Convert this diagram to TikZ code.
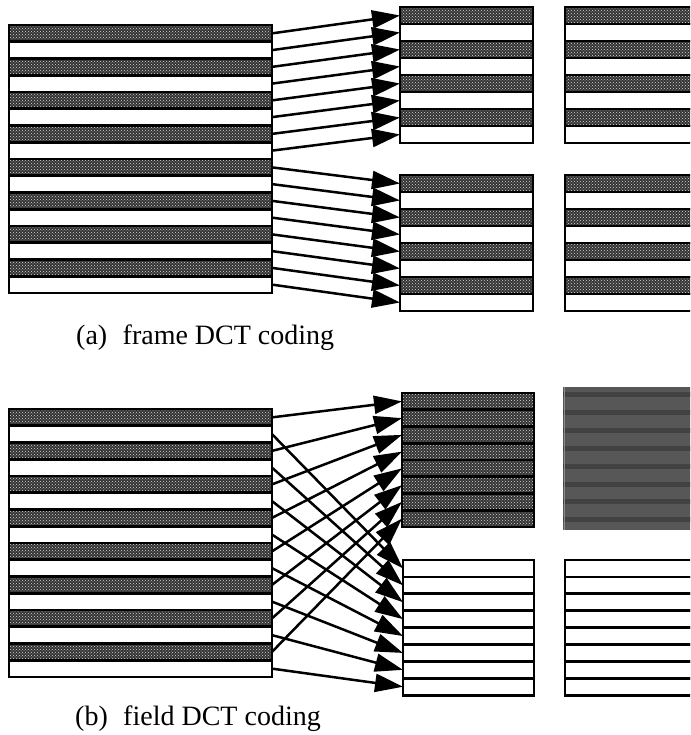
\documentclass[tikz,border=0pt]{standalone}
\usepackage{fontspec}
\setmainfont{Liberation Serif}
\usetikzlibrary{arrows.meta, patterns}

\tikzset{
  stripe/.style={draw, line width=2.8pt, inner sep=0pt, outer sep=0pt,
    anchor=north west, minimum height=#1},
  dark/.style={preaction={fill=black!80}, pattern=crosshatch dots, pattern color=white!85!black},
  light/.style={fill=white},
  feed/.style={line width=2.5pt, -{Triangle[length=28pt,width=18pt]}},
  caption/.style={anchor=base west, inner sep=0pt, font=\fontsize{28}{30}\selectfont},
}

\begin{document}
\begin{tikzpicture}[x=1pt, y=-1pt]
    \useasboundingbox (0,0) rectangle (690,735);
    \clip (0,0) rectangle (690,735);

    % --- (a) FRAME DCT CODING ---
    % 16-line block, shaded lines on top of each pair
    \foreach \i in {1,...,16}{
      \pgfmathsetmacro{\yy}{25+(\i-1)*16.75}
      \ifodd\i
        \node[stripe=16.75pt, minimum width=263pt, dark] (fa\i) at (9,\yy) {};
      \else
        \node[stripe=16.75pt, minimum width=263pt, light] (fa\i) at (9,\yy) {};
      \fi
    }
    % two 8-line blocks and the blocks beside them
    \foreach \j in {1,...,8}{
      \pgfmathsetmacro{\ya}{7+(\j-1)*17}
      \pgfmathsetmacro{\yb}{175+(\j-1)*17}
      \ifodd\j
        \node[stripe=17pt, minimum width=133pt, dark] (fat\j) at (400,\ya) {};
        \node[stripe=17pt, minimum width=133pt, dark] (fab\j) at (400,\yb) {};
        \node[stripe=17pt, minimum width=140pt, dark] (far\j) at (565,\ya) {};
        \node[stripe=17pt, minimum width=140pt, dark] (fas\j) at (565,\yb) {};
      \else
        \node[stripe=17pt, minimum width=133pt, light] (fat\j) at (400,\ya) {};
        \node[stripe=17pt, minimum width=133pt, light] (fab\j) at (400,\yb) {};
        \node[stripe=17pt, minimum width=140pt, light] (far\j) at (565,\ya) {};
        \node[stripe=17pt, minimum width=140pt, light] (fas\j) at (565,\yb) {};
      \fi
    }
    % lines 1-8 to the upper block, lines 9-16 to the lower one
    \foreach \i in {1,...,8}{
      \pgfmathtruncatemacro{\k}{\i+8}
      \draw[feed] (fa\i.east) -- (fat\i.west);
      \draw[feed] (fa\k.east) -- (fab\i.west);
    }
    \node[caption] (capa) at (76,344) {(a)\hspace{0.55em}frame DCT coding};

    % --- (b) FIELD DCT CODING ---
    \foreach \i in {1,...,16}{
      \pgfmathsetmacro{\yy}{409+(\i-1)*16.75}
      \ifodd\i
        \node[stripe=16.75pt, minimum width=263pt, dark] (fb\i) at (9,\yy) {};
      \else
        \node[stripe=16.75pt, minimum width=263pt, light] (fb\i) at (9,\yy) {};
      \fi
    }
    % shaded field on top, white field below
    \foreach \j in {1,...,8}{
      \pgfmathsetmacro{\ya}{393+(\j-1)*16.75}
      \pgfmathsetmacro{\yb}{560+(\j-1)*16.9}
      \node[stripe=16.75pt, minimum width=132pt, dark] (fbt\j) at (402,\ya) {};
      \node[stripe=16.9pt, minimum width=131pt, light] (fbb\j) at (403,\yb) {};
      \node[stripe=16.9pt, minimum width=140pt, light] (fbs\j) at (565,\yb) {};
    }
    % blurred block to the right of the shaded field
    \fill[black!66] (563,387) rectangle (705,530);
    \foreach \j in {1,...,8}{
      \fill[black!74] (563,{392+(\j-1)*17.9}) rectangle (705,{397+(\j-1)*17.9});
    }
    \draw[black!45, line width=1pt] (564,387) -- (564,530);
    % odd lines to the top field, even lines to the bottom field
    \foreach \j in {1,...,8}{
      \pgfmathtruncatemacro{\o}{2*\j-1}
      \pgfmathtruncatemacro{\e}{2*\j}
      \draw[feed] (fb\o.east) -- (fbt\j.west);
      \draw[feed] (fb\e.east) -- (fbb\j.west);
    }
    \node[caption] (capb) at (75,725) {(b)\hspace{0.55em}field DCT coding};

\end{tikzpicture}
\end{document}
